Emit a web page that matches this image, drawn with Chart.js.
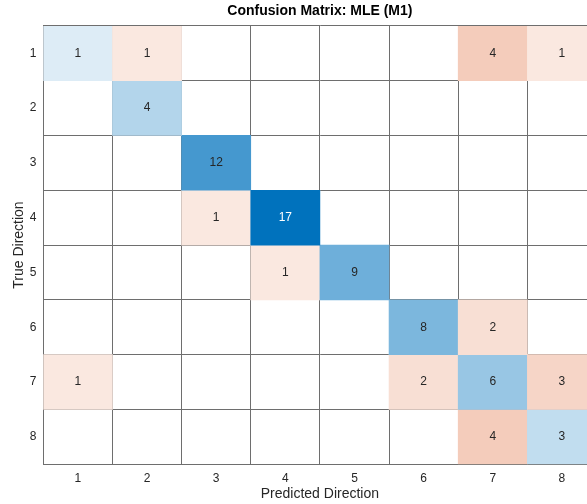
<!DOCTYPE html>
<html>
<head>
<meta charset="utf-8">
<script src="https://cdn.jsdelivr.net/npm/chart.js@4.4.0/dist/chart.umd.min.js"></script>
<style>
html, body { margin: 0; padding: 0; overflow: hidden; background: #fff; }
</style>
</head>
<body>
<canvas id="cmChart" width="610" height="504"></canvas>
<script>
const predLabels = ["1", "2", "3", "4", "5", "6", "7", "8"];
const trueLabels = ["1", "2", "3", "4", "5", "6", "7", "8"];
const counts = [
    [1, 1, 0, 0, 0, 0, 4, 1],
    [0, 4, 0, 0, 0, 0, 0, 0],
    [0, 0, 12, 0, 0, 0, 0, 0],
    [0, 0, 1, 17, 0, 0, 0, 0],
    [0, 0, 0, 1, 9, 0, 0, 0],
    [0, 0, 0, 0, 0, 8, 2, 0],
    [1, 0, 0, 0, 0, 2, 6, 3],
    [0, 0, 0, 0, 0, 0, 4, 3]
];

const maxCount = Math.max(...counts.flat());
const blue = [0, 114, 189];
const red = [217, 83, 25];

function cellColor(v, diag) {
    if (!v) return "rgba(0,0,0,0)";
    const base = diag ? blue : red;
    const t = 0.08 + 0.92 * v / maxCount;
    const c = base.map(b => Math.round(255 - t * (255 - b)));
    return "rgb(" + c.join(",") + ")";
}

const font = "'Liberation Sans', Arial, Helvetica, sans-serif";

// one dataset per true-class row, floating bars span that row
const datasets = counts.map((row, i) => ({
    label: trueLabels[i],
    data: row.map(v => v ? [i, i + 1] : null),
    counts: row,
    backgroundColor: row.map((v, j) => cellColor(v, i === j)),
    borderWidth: 0,
    barPercentage: 1,
    categoryPercentage: 1,
    grouped: false
}));

const cellText = {
    id: "cellText",
    afterDatasetsDraw(chart) {
        const ctx = chart.ctx;
        ctx.save();
        ctx.font = "12px " + font;
        ctx.textAlign = "center";
        ctx.textBaseline = "middle";
        chart.data.datasets.forEach((ds, i) => {
            chart.getDatasetMeta(i).data.forEach((el, j) => {
                const v = ds.counts[j];
                if (!v) return;
                ctx.fillStyle = v / maxCount > 0.85 ? "#ffffff" : "#262626";
                ctx.fillText(String(v), el.x, (el.y + el.base) / 2);
            });
        });
        ctx.restore();
    }
};

new Chart(document.getElementById("cmChart").getContext("2d"), {
    type: "bar",
    data: { labels: predLabels, datasets: datasets },
    options: {
        responsive: false,
        animation: false,
        layout: { padding: { left: 0, right: 13.5, top: 0, bottom: 0 } },
        plugins: {
            legend: { display: false },
            tooltip: { enabled: false },
            title: {
                display: true,
                text: "Confusion Matrix: MLE (M1)",
                fullSize: false,
                color: "#000",
                font: { family: font, size: 14, weight: "bold" },
                padding: { top: 3, bottom: 6 }
            }
        },
        scales: {
            x: {
                type: "category",
                z: 1,
                grid: { offset: true, color: "#6e6e6e", drawTicks: false },
                border: { color: "#6e6e6e" },
                ticks: { color: "#262626", font: { family: font, size: 12 }, padding: 7 },
                title: {
                    display: true,
                    text: "Predicted Direction",
                    color: "#262626",
                    font: { family: font, size: 14 },
                    padding: { top: 0, bottom: 1 }
                },
                afterFit(scale) { scale.height = 39.7; }
            },
            y: {
                type: "linear",
                reverse: true,
                min: 0,
                max: 8,
                z: 1,
                grid: { color: "#6e6e6e", drawTicks: false },
                border: { color: "#6e6e6e" },
                ticks: {
                    stepSize: 1,
                    color: "#262626",
                    font: { family: font, size: 12 },
                    padding: 7,
                    labelOffset: 27.4,
                    callback: v => (v < trueLabels.length ? trueLabels[v] : "")
                },
                title: {
                    display: true,
                    text: "True Direction",
                    color: "#262626",
                    font: { family: font, size: 14 },
                    padding: { top: 11, bottom: 0 }
                },
                afterFit(scale) { scale.width = 43.3; }
            }
        }
    },
    plugins: [cellText]
});
</script>
</body>
</html>
